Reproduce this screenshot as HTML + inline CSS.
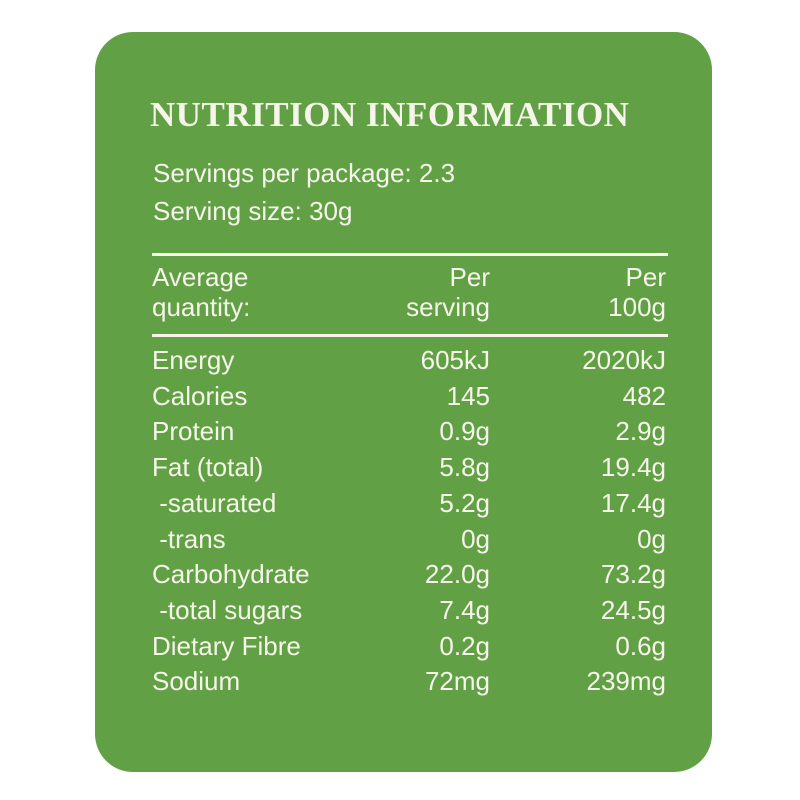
<!DOCTYPE html>
<html><head><meta charset="utf-8"><style>
body{margin:0;width:800px;height:800px;background:#fff;overflow:hidden;font-family:"Liberation Sans",sans-serif;}
.card{position:absolute;left:95px;top:32px;width:617px;height:740px;background:#62a046;border-radius:38px;}
.t{position:absolute;color:#f5f5ea;white-space:nowrap;font-size:26px;line-height:30px;}
.title{position:absolute;left:150px;top:95px;width:517px;font-family:"Liberation Serif",serif;font-weight:bold;font-size:35px;color:#f5f5ea;letter-spacing:0.5px;white-space:nowrap;}
.rule{position:absolute;left:152px;width:516px;height:3px;background:#f5f5ea;}
.r{text-align:right;}
</style></head><body>
<div class="card"></div>
<div class="title">NUTRITION INFORMATION</div>
<div class="t" style="left:153px;top:158px">Servings per package: 2.3</div>
<div class="t" style="left:153px;top:196px">Serving size: 30g</div>
<div class="rule" style="top:253px"></div>
<div class="t" style="left:152px;top:262px">Average<br>quantity:</div>
<div class="t r" style="left:340px;width:150px;top:262px">Per<br>serving</div>
<div class="t r" style="left:516px;width:150px;top:262px">Per<br>100g</div>
<div class="rule" style="top:334px"></div>
<div id="rows"></div>
<script>
const labels=["Energy","Calories","Protein","Fat (total)"," -saturated"," -trans","Carbohydrate"," -total sugars","Dietary Fibre","Sodium"];
const perServing=["605kJ","145","0.9g","5.8g","5.2g","0g","22.0g","7.4g","0.2g","72mg"];
const per100=["2020kJ","482","2.9g","19.4g","17.4g","0g","73.2g","24.5g","0.6g","239mg"];
const rows=document.getElementById('rows');
labels.forEach((l,i)=>{
  const top=345+i*35.7;
  const a=document.createElement('div');a.className='t';a.style.left='152px';a.style.top=top+'px';a.style.whiteSpace='pre';a.textContent=l;
  
  
  const b=document.createElement('div');b.className='t r';b.style.left='340px';b.style.width='150px';b.style.top=top+'px';b.textContent=perServing[i];
  
  
  const c=document.createElement('div');c.className='t r';c.style.left='516px';c.style.width='150px';c.style.top=top+'px';c.textContent=per100[i];
  
  
  rows.append(a,b,c);
});
</script>
</body></html>
